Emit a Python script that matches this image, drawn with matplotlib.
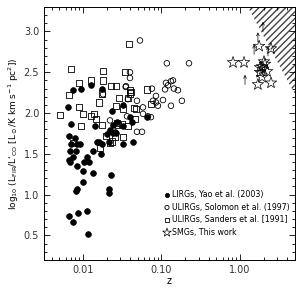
import matplotlib
matplotlib.use("Agg")
import matplotlib.pyplot as plt
from matplotlib.ticker import FixedLocator, FormatStrFormatter, MultipleLocator, NullFormatter

# LIRGs, Yao et al. (2003)
lirg_z = [0.0075, 0.0094, 0.0126, 0.0175, 0.0064, 0.0070, 0.0066, 0.0079, 0.0084, 0.0092,
          0.0151, 0.0175, 0.0142, 0.0221, 0.0241, 0.0271, 0.0234, 0.0323, 0.0397, 0.0323,
          0.0434, 0.0653, 0.0202, 0.0256, 0.0068, 0.0070, 0.0066, 0.0068, 0.0075, 0.0081,
          0.0084, 0.0100, 0.0103, 0.0112, 0.0119, 0.0134, 0.0100, 0.0134, 0.0081, 0.0084,
          0.0170, 0.0227, 0.0214, 0.0214, 0.0066, 0.0075, 0.0086, 0.0112, 0.0116, 0.0323,
          0.0421, 0.0240, 0.0263, 0.0214, 0.0160]
lirg_y = [2.28, 2.29, 2.34, 2.29, 2.07, 1.87, 1.72, 1.70, 1.62, 1.62,
          1.65, 1.62, 1.84, 1.79, 1.85, 1.89, 2.02, 1.84, 1.95, 1.62,
          1.65, 1.95, 1.74, 1.77, 1.54, 1.62, 1.43, 1.40, 1.46, 1.54,
          1.35, 1.29, 1.40, 1.46, 1.40, 1.54, 1.15, 1.27, 1.04, 1.07,
          1.50, 1.24, 1.07, 1.02, 0.74, 0.67, 0.77, 0.80, 0.52, 2.10,
          1.89, 1.76, 1.76, 1.65, 1.64]

# ULIRGs, Solomon et al. (1997)
sol_z = [0.0532, 0.0397, 0.0397, 0.0353, 0.0374, 0.0487, 0.0364, 0.0581, 0.0581, 0.0487,
         0.0565, 0.0221, 0.0180, 0.117, 0.224, 0.114, 0.121, 0.132, 0.140, 0.111,
         0.144, 0.162, 0.0756, 0.0851, 0.1045, 0.0779, 0.0851, 0.0902, 0.132, 0.182,
         0.0734, 0.0673, 0.0350]
sol_y = [2.89, 2.50, 2.43, 2.33, 2.17, 2.15, 1.96, 2.07, 1.99, 1.77,
         1.77, 1.91, 2.23, 2.61, 2.61, 2.37, 2.34, 2.39, 2.40, 2.29,
         2.30, 2.28, 2.30, 2.21, 2.16, 2.15, 2.13, 2.09, 2.09, 2.15,
         1.95, 1.96, 2.32]

# ULIRGs, Sanders et al. (1991)
san_z = [0.0070, 0.0089, 0.0066, 0.0089, 0.0051, 0.0100, 0.0094, 0.0075, 0.0126, 0.0180,
         0.0180, 0.0227, 0.0263, 0.0386, 0.0160, 0.0175, 0.0288, 0.0263, 0.0126, 0.0138,
         0.0147, 0.0175, 0.0196, 0.0256, 0.0279, 0.0314, 0.0343, 0.0374, 0.0409, 0.0473,
         0.0653, 0.0323, 0.0165, 0.0221, 0.0323, 0.0447, 0.0271, 0.0374, 0.0460, 0.0234,
         0.0734, 0.0397, 0.0397]
san_y = [2.54, 2.37, 2.22, 2.07, 1.98, 1.99, 1.84, 1.63, 2.40, 2.52,
         2.40, 2.33, 2.33, 2.85, 2.13, 2.24, 2.18, 2.09, 1.96, 1.99,
         1.93, 1.85, 1.72, 1.71, 1.85, 1.87, 2.50, 2.18, 2.26, 2.05,
         2.29, 1.71, 1.57, 1.63, 2.05, 2.06, 1.88, 1.84, 1.93, 1.65,
         2.11, 2.28, 2.24]

# SMGs, this work
smg_z = [0.815, 1.125, 1.75, 2.48, 1.91, 1.96, 1.80, 2.21, 1.91, 1.69, 2.48, 2.08, 2.02, 1.80]
smg_y = [2.62, 2.62, 2.82, 2.79, 2.57, 2.54, 2.50, 2.51, 2.44, 2.35, 2.37, 2.60, 2.63, 2.56]

# lower-limit arrows (base of arrow)
arr_z = [1.158, 1.51, 1.69, 1.96, 2.27]
arr_y = [2.35, 2.72, 2.87, 3.00, 2.70]
arr_len = 0.12

# excluded region boundary
excl_z = [1.26, 5.0, 5.0]
excl_y = [3.3, 2.23, 3.3]

fig = plt.figure(figsize=(3.0, 2.92), dpi=100, facecolor="white")
ax = fig.add_axes([0.147, 0.11, 0.836, 0.866])

ax.fill(excl_z, excl_y, facecolor="white", edgecolor="#444444", hatch="/////", linewidth=0)

ax.scatter(lirg_z, lirg_y, s=17, marker="o", facecolor="black", edgecolor="black", linewidth=0.5,
           label="LIRGs, Yao et al. (2003)")
ax.scatter(sol_z, sol_y, s=16, marker="o", facecolor="none", edgecolor="black", linewidth=0.6,
           label="ULIRGs, Solomon et al. (1997)")
ax.scatter(san_z, san_y, s=20, marker="s", facecolor="none", edgecolor="black", linewidth=0.6,
           label="ULIRGs, Sanders et al. [1991]")
ax.scatter(smg_z, smg_y, s=75, marker="*", facecolor="none", edgecolor="black", linewidth=0.5,
           label="SMGs, This work")

for z, y in zip(arr_z, arr_y):
    ax.annotate("", xy=(z, y + arr_len), xytext=(z, y),
                arrowprops=dict(arrowstyle="->", lw=0.5, color="black",
                                shrinkA=0, shrinkB=0, mutation_scale=5))

ax.set_xscale("log")
ax.set_xlim(0.0032, 5.0)
ax.set_ylim(0.2, 3.3)

ax.xaxis.set_major_locator(FixedLocator([0.01, 0.1, 1.0]))
ax.xaxis.set_major_formatter(FormatStrFormatter("%.2f"))
ax.xaxis.set_minor_formatter(NullFormatter())
ax.yaxis.set_major_locator(MultipleLocator(0.5))
ax.yaxis.set_minor_locator(MultipleLocator(0.1))
ax.yaxis.set_major_formatter(FormatStrFormatter("%.1f"))

ax.tick_params(which="both", direction="in", top=True, right=True, labelsize=7,
               labelcolor="#333333", width=0.6)
ax.tick_params(which="major", length=4)
ax.tick_params(which="minor", length=2)
for sp in ax.spines.values():
    sp.set_linewidth(0.7)

ax.set_xlabel("z", fontsize=7, labelpad=1)
ax.set_ylabel(r"log$_{10}$ (L$_{\rm FIR}$/L$'_{\rm CO}$ [L$_\odot$/K km s$^{-1}$ pc$^2$])",
              fontsize=6.5, labelpad=2)

leg = ax.legend(loc="lower right", bbox_to_anchor=(1.0, 0.07), frameon=False, fontsize=5.7,
                handletextpad=0.1, labelspacing=0.45, handlelength=1.0, borderaxespad=0.3,
                markerscale=0.75)

fig.savefig("out.png", dpi=100, facecolor="white")
